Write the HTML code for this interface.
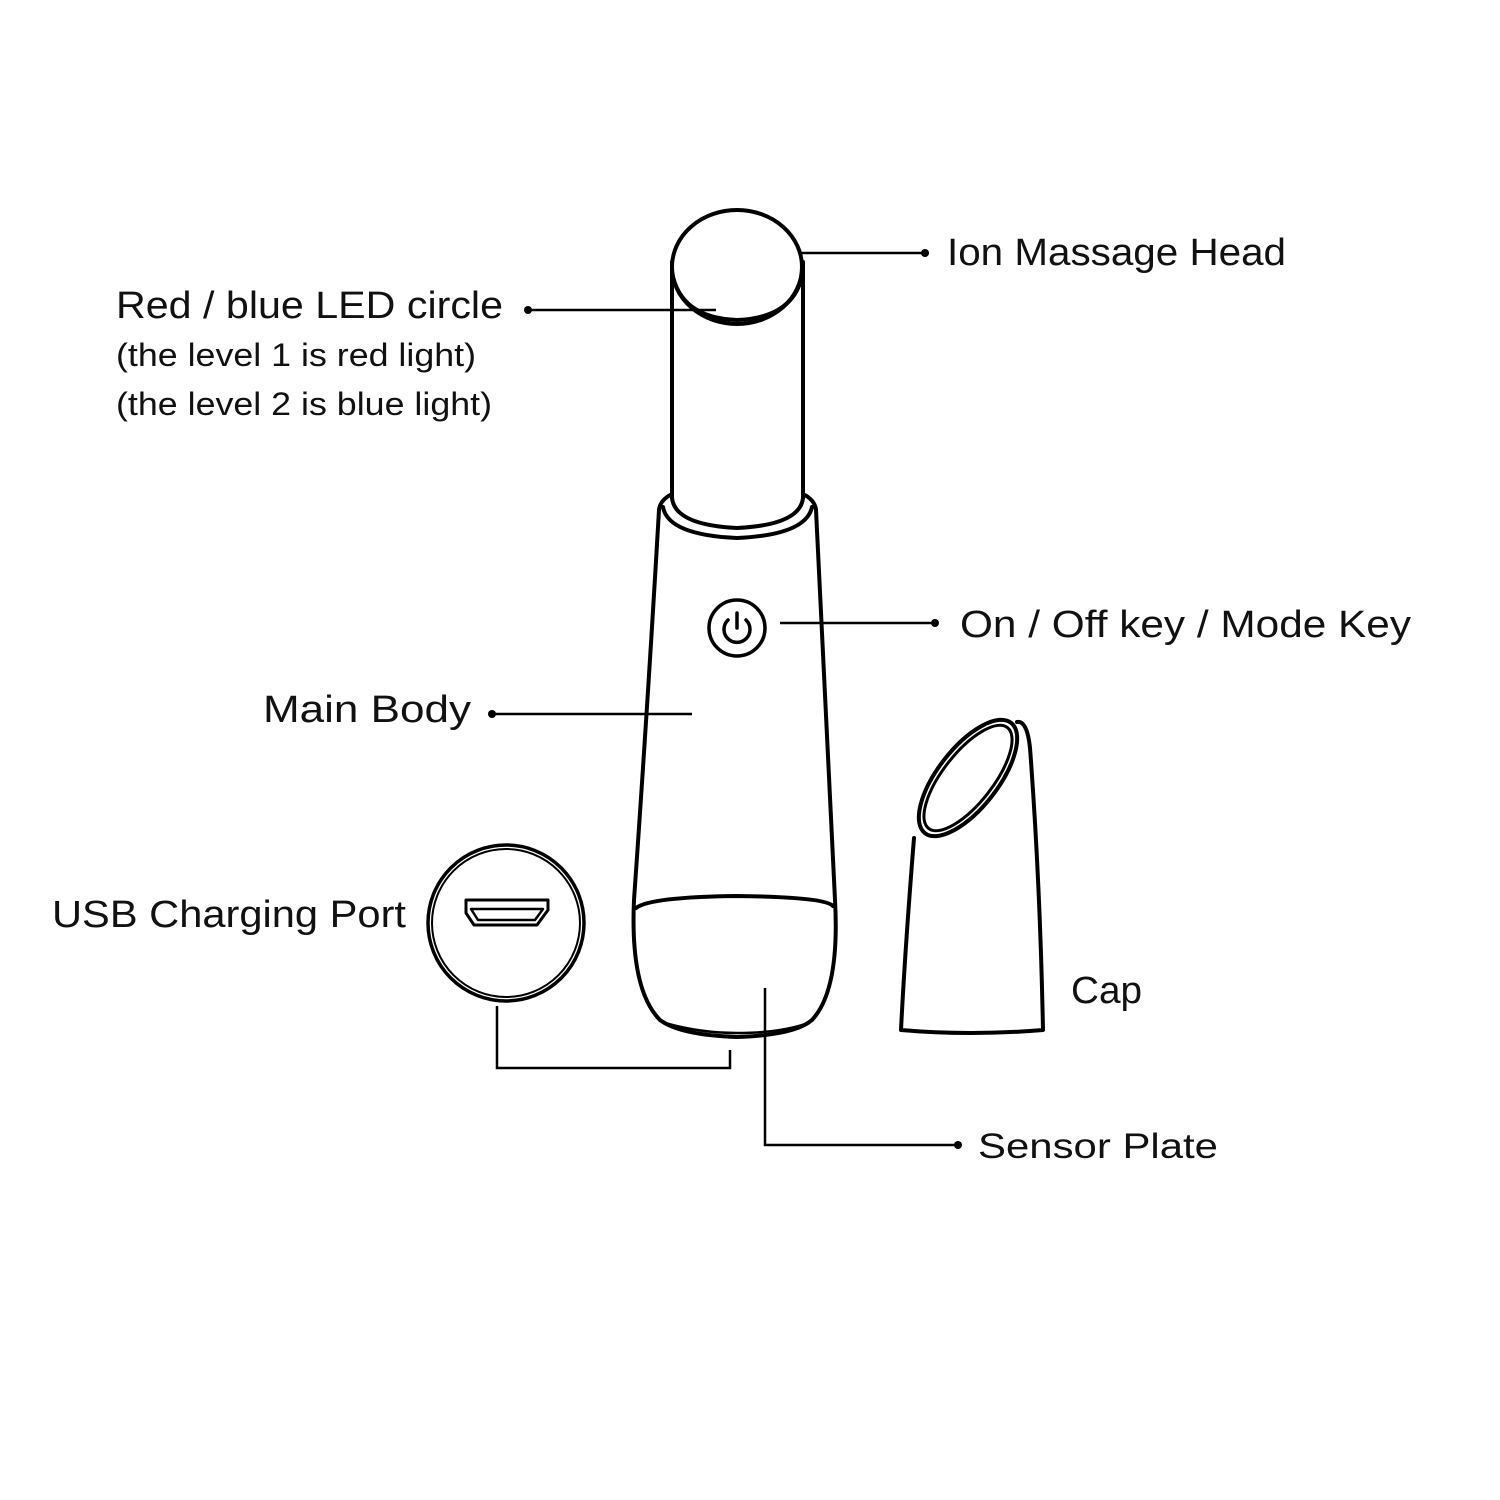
<!DOCTYPE html>
<html><head><meta charset="utf-8"><style>
html,body{margin:0;padding:0;background:#fff;}
svg{display:block;}
text{font-family:"Liberation Sans",sans-serif;fill:#111;}
</style></head><body>
<svg width="1500" height="1500" viewBox="0 0 1500 1500" xmlns="http://www.w3.org/2000/svg">
<g fill="none" stroke="#000" stroke-width="4" stroke-linecap="round" stroke-linejoin="round">
<path d="M672 262 L672 498"/>
<path d="M803 262 L803 498"/>
<ellipse cx="737" cy="267" rx="65" ry="57"/>
<path d="M672 272 Q680 318 737 320 Q795 318 803 272"/>
<path d="M672 498 Q675 525 737 528 Q800 525 803 498"/>
<path d="M663 507 Q668 535 737 538 Q806 535 812 507"/>
<path d="M672 494 Q660 500 659 510"/>
<path d="M803 494 Q815 500 816 510"/>
<path d="M659 510 Q648 700 634 900 Q630 990 660 1020 Q680 1035 737 1037 Q795 1035 812 1020 Q840 990 835 900 Q825 700 816 510"/>
<path d="M636 908 Q650 897 737 896 Q825 897 833 906"/>
<path d="M665 1023 Q700 1033 737 1033 Q780 1033 808 1023" stroke-width="2.5"/>
<circle cx="737" cy="628" r="28" stroke-width="3.5"/>
<path d="M728 620 A13 13 0 1 0 746 620" stroke-width="3.5"/>
<path d="M737 613 L737 628" stroke-width="3.5"/>
<circle cx="506" cy="923" r="78" stroke-width="3.5"/>
<circle cx="506" cy="923" r="74" stroke-width="2"/>
<path d="M466 900 L548 900 L548 910 L537 925 L474 925 L466 913 Z" stroke-width="3"/>
<path d="M471 909 L543 909 L535 920 L478 920 Z" stroke-width="2.5"/>
<path d="M914 838 Q905 950 901 1030 Q970 1036 1043 1030 Q1040 880 1030 748 Q1027 720 1017 722"/>
<ellipse cx="968" cy="778" rx="30" ry="70" transform="rotate(38 968 778)"/>
<ellipse cx="968" cy="778" rx="25" ry="64" transform="rotate(38 968 778)" stroke-width="3"/>
</g>
<g fill="none" stroke="#000" stroke-width="2.5">
<path d="M800 253 L925 253"/>
<path d="M528 310 L716 310"/>
<path d="M780 623 L935 623"/>
<path d="M492 714 L692 714"/>
<path d="M765 988 L765 1145 L958 1145"/>
<path d="M497 1006 L497 1068 L730 1068 L730 1050"/>
</g>
<g fill="#000">
<circle cx="925" cy="253" r="4"/>
<circle cx="528" cy="310" r="4"/>
<circle cx="935" cy="623" r="4"/>
<circle cx="492" cy="714" r="4"/>
<circle cx="958" cy="1145" r="4"/>
</g>
<text x="947" y="265" font-size="38" textLength="339" lengthAdjust="spacingAndGlyphs">Ion Massage Head</text>
<text x="116" y="318" font-size="38" textLength="387" lengthAdjust="spacingAndGlyphs">Red / blue LED circle</text>
<text x="116" y="366" font-size="32" textLength="360" lengthAdjust="spacingAndGlyphs">(the level 1 is red light)</text>
<text x="116" y="415" font-size="32" textLength="376" lengthAdjust="spacingAndGlyphs">(the level 2 is blue light)</text>
<text x="960" y="637" font-size="38" textLength="451" lengthAdjust="spacingAndGlyphs">On / Off key / Mode Key</text>
<text x="263" y="722" font-size="38" textLength="208" lengthAdjust="spacingAndGlyphs">Main Body</text>
<text x="52" y="927" font-size="38" textLength="354" lengthAdjust="spacingAndGlyphs">USB Charging Port</text>
<text x="1071" y="1003" font-size="38" textLength="71" lengthAdjust="spacingAndGlyphs">Cap</text>
<text x="978" y="1158" font-size="35" textLength="240" lengthAdjust="spacingAndGlyphs">Sensor Plate</text>
</svg>
</body></html>
